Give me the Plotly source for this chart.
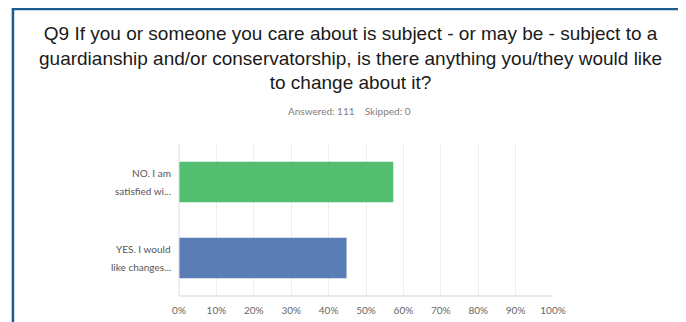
import plotly.graph_objects as go

categories = ["NO. I am satisfied wi...", "YES. I would like changes..."]
label_lines = [["NO. I am", "satisfied wi..."], ["YES. I would", "like changes..."]]
values = [57.3, 44.8]
colors = ["#53be6f", "#5b7db5"]
tick_vals = [0, 10, 20, 30, 40, 50, 60, 70, 80, 90, 100]
tick_text = [f"{v}%" for v in tick_vals]
title_lines = [
    "Q9 If you or someone you care about is subject - or may be - subject to a",
    "guardianship and/or conservatorship, is there anything you/they would like",
    "to change about it?",
]
answered, skipped = 111, 0

# The page adds an 8px body margin; figure coordinates below account for it.
W, H = 686, 322
ML, MR, MT, MB = 170.5, 140.5, 136, 34
PW, PH = W - ML - MR, H - MT - MB

def px(x):
    return (x - ML) / PW

def py(y):
    return 1 - (y - MT) / PH

fig = go.Figure()
fig.add_trace(go.Bar(
    y=categories, x=values, orientation="h",
    marker=dict(color=colors, line=dict(width=0)),
    width=0.53, hoverinfo="skip",
))

fig.update_layout(
    width=W, height=H,
    margin=dict(l=ML, r=MR, t=MT, b=MB),
    paper_bgcolor="white", plot_bgcolor="white",
    showlegend=False,
    xaxis=dict(range=[0, 100], tickvals=tick_vals, ticktext=tick_text,
               showgrid=True, gridcolor="#eeeeee", gridwidth=1,
               zeroline=False, showline=False,
               ticks="outside", ticklen=5, tickcolor="rgba(0,0,0,0)",
               tickfont=dict(family="Lato, Open Sans, sans-serif", size=10, color="#666666"),
               fixedrange=True),
    yaxis=dict(autorange=False, range=[1.5, -0.5], showgrid=False, zeroline=False,
               showline=False, ticks="", showticklabels=False,
               fixedrange=True),
    font=dict(family="Liberation Sans, Arial, sans-serif"),
)

# y category labels (two lines each, wide leading)
for cat, lines in zip(categories, label_lines):
    for i, line in enumerate(lines):
        fig.add_annotation(text=line, xref="paper", yref="y", x=0, y=cat,
                           xanchor="right", yanchor="middle", xshift=-6,
                           yshift=9 if i == 0 else -9, showarrow=False,
                           font=dict(family="Lato, Open Sans, sans-serif", size=10, color="#555555"))

# bottom axis line and left axis line
fig.add_shape(type="line", xref="paper", yref="paper", x0=0, x1=1, y0=0, y1=0,
              line=dict(color="#d2d2d2", width=1))
fig.add_shape(type="line", xref="paper", yref="paper", x0=0, x1=0, y0=0, y1=1,
              line=dict(color="#dddddd", width=1))

# outer frame
fig.add_shape(type="rect", xref="paper", yref="paper",
              x0=px(4), x1=px(673), y0=py(340), y1=py(1),
              line=dict(color="#1d5b8a", width=2.5), layer="above")

fig.add_annotation(text="<br>".join(title_lines), xref="paper", yref="paper",
                   x=px(342), y=py(50), showarrow=False, xanchor="center", yanchor="middle",
                   align="center",
                   font=dict(family="Liberation Sans, Arial, sans-serif", size=19, color="#1a1a1a"))
fig.add_annotation(text=f"Answered: {answered}&nbsp;&nbsp;&nbsp;&nbsp;Skipped: {skipped}",
                   xref="paper", yref="paper",
                   x=px(341.5), y=py(103), showarrow=False, xanchor="center", yanchor="middle",
                   font=dict(family="Lato, Open Sans, sans-serif", size=10, color="#808080"))

fig.write_html("out.html")
